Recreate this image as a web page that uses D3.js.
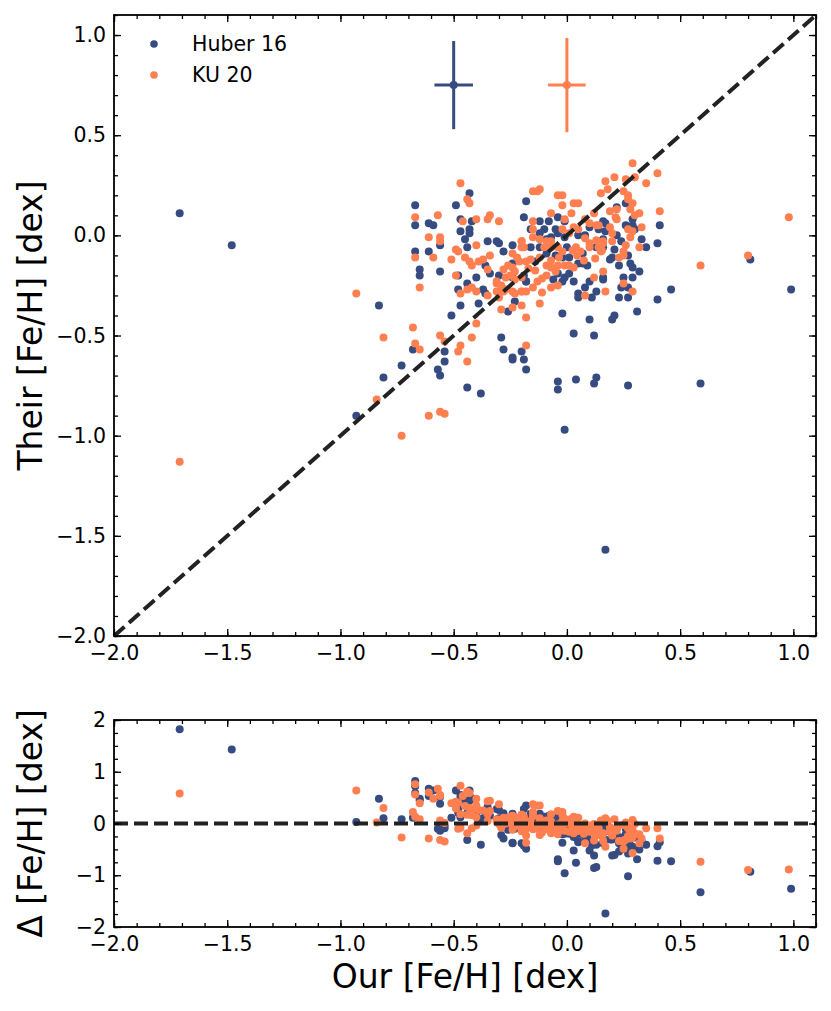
<!DOCTYPE html>
<html>
<head>
<meta charset="utf-8">
<script src="https://cdn.jsdelivr.net/npm/d3@7"></script>
<style>
  html, body { margin: 0; padding: 0; background: #fff; }
  svg text { font-family: "DejaVu Sans", sans-serif; fill: #000; }
  .tick line { stroke: #000; stroke-width: 1.3; }
  .domain { display: none; }
</style>
</head>
<body>
<svg id="chart" width="831" height="1011"></svg>
<script>
// [our, their] metallicity pairs
const huberPts = [
  [-1.71, 0.11], [-1.48, -0.05], [-0.83, -0.35], [-0.93, -0.90], [0.81, -0.12], [0.99, -0.27],
  [0.59, -0.74], [-0.01, -0.97], [0.17, -1.57], [0.46, -0.27], [0.40, -0.32], [0.31, -0.38],
  [0.21, -0.40], [0.20, -0.42],
  [0.41, 0.05], [0.40, -0.04], [0.35, -0.06], [0.33, -0.02], [0.30, 0.03], [0.26, 0.05],
  [0.26, 0.16], [0.22, 0.14], [0.29, 0.08], [0.16, 0.07], [0.17, 0.06], [0.17, 0.02],
  [0.22, 0.0], [0.16, -0.02], [0.21, -0.07], [0.24, -0.03], [0.27, -0.10], [0.20, -0.11],
  [0.23, -0.15], [0.28, -0.14], [0.29, -0.16], [0.32, -0.18], [0.29, -0.21], [0.25, -0.21],
  [0.16, -0.21], [0.24, -0.26], [0.27, -0.26], [0.23, -0.31], [0.27, -0.31], [0.29, 0.05],
  [-0.18, 0.17], [-0.19, 0.09], [-0.12, 0.07], [-0.08, 0.07], [-0.04, 0.09], [-0.01, 0.07],
  [-0.10, 0.03], [-0.05, 0.03], [-0.04, 0.01], [-0.16, -0.06], [-0.12, -0.06], [-0.05, -0.10],
  [-0.02, -0.11], [0.01, -0.11], [0.05, -0.14], [0.07, -0.14], [0.09, -0.15], [0.13, -0.06],
  [0.16, -0.06], [0.19, -0.12], [-0.01, -0.21], [0.01, -0.19], [-0.06, -0.22], [0.10, -0.23],
  [0.08, -0.26], [0.16, -0.22], [0.05, -0.29], [0.05, -0.31], [-0.16, 0.03], [-0.09, -0.02],
  [-0.12, 0.01], [-0.07, -0.01], [-0.01, -0.01], [0.05, 0.0], [0.08, 0.0], [0.10, 0.04],
  [0.14, 0.03], [0.07, -0.09], [0.0, -0.06], [-0.09, -0.09], [-0.14, -0.13], [-0.04, -0.19],
  [0.03, -0.23], [-0.02, -0.23], [-0.18, -0.23], [0.11, -0.31], [0.13, -0.28],
  [-0.43, 0.21], [-0.67, 0.15], [-0.49, 0.15], [-0.67, 0.05], [-0.61, 0.06], [-0.59, 0.05],
  [-0.47, 0.08], [-0.42, 0.07], [-0.43, 0.03], [-0.47, 0.02], [-0.43, 0.01], [-0.45, -0.02],
  [-0.56, -0.05], [-0.67, -0.08], [-0.61, -0.08], [-0.44, -0.06], [-0.35, -0.03], [-0.31, -0.03],
  [-0.30, -0.04], [-0.24, -0.05], [-0.28, -0.08], [-0.65, -0.17], [-0.65, -0.20], [-0.56, -0.18],
  [-0.48, -0.20], [-0.40, -0.21], [-0.36, -0.15], [-0.34, -0.19], [-0.44, -0.24], [-0.48, -0.27],
  [-0.37, -0.27], [-0.36, -0.29], [-0.30, -0.20], [-0.24, -0.21], [-0.47, -0.35], [-0.39, -0.34],
  [-0.26, -0.38], [-0.23, -0.33], [-0.51, -0.40], [-0.81, -0.71], [-0.73, -0.65], [-0.68, -0.57],
  [-0.57, -0.67], [-0.56, -0.70], [-0.54, -0.58], [-0.54, -0.63], [-0.44, -0.76], [-0.38, -0.79],
  [-0.29, -0.51], [-0.28, -0.57], [-0.24, -0.61], [-0.24, -0.62], [-0.20, -0.58], [-0.19, -0.62],
  [-0.18, -0.67], [-0.02, -0.39], [0.03, -0.49], [0.12, -0.50], [0.10, -0.42], [-0.04, -0.73],
  [-0.04, -0.77], [0.04, -0.72], [0.13, -0.71], [0.12, -0.74], [0.27, -0.75], [-0.24, -0.14],
  [-0.19, -0.20], [-0.18, -0.23]
]

const ku20Pts = [
  [-1.71, -1.13], [-0.93, -0.29], [-0.81, -0.51], [-0.84, -0.82], [-0.73, -1.00], [0.98, 0.09],
  [0.80, -0.10], [0.59, -0.15],
  [0.29, 0.36], [0.40, 0.31], [0.35, 0.26], [0.30, 0.29], [0.26, 0.28], [0.21, 0.29],
  [0.17, 0.27], [0.18, 0.23], [0.15, 0.21], [0.25, 0.22], [0.27, 0.20], [0.27, 0.18],
  [0.29, 0.16], [0.41, 0.12], [0.28, 0.13], [0.32, 0.11], [0.30, 0.10], [0.19, 0.12],
  [0.22, 0.13], [0.22, 0.08], [0.14, 0.05], [0.33, 0.04], [0.27, 0.03], [0.29, 0.02],
  [0.28, -0.01], [0.32, -0.06], [0.20, -0.03], [0.16, -0.04], [0.26, -0.05], [0.25, -0.08],
  [0.23, -0.11], [0.25, -0.10], [0.15, -0.08], [0.16, -0.18], [0.17, -0.28], [0.25, -0.24],
  [0.29, -0.28],
  [-0.13, 0.22], [-0.12, 0.23], [-0.02, 0.20], [-0.02, 0.15], [-0.07, 0.11], [0.03, 0.16],
  [0.05, 0.16], [0.02, 0.11], [-0.01, 0.08], [-0.15, 0.07], [0.12, 0.11], [0.08, 0.08],
  [0.10, 0.06], [0.13, 0.05], [0.05, 0.03], [0.03, 0.04], [-0.02, 0.03], [0.01, 0.01],
  [-0.15, 0.03], [-0.15, -0.01], [-0.12, -0.02], [-0.09, -0.03], [-0.07, -0.03], [-0.20, -0.03],
  [-0.19, -0.06], [-0.10, -0.06], [-0.07, -0.06], [-0.04, -0.06], [-0.02, -0.08], [0.04, -0.06],
  [0.06, -0.08], [0.10, -0.06], [0.14, -0.06], [0.16, -0.03], [-0.18, -0.13], [-0.16, -0.12],
  [-0.09, -0.15], [-0.07, -0.16], [-0.04, -0.15], [-0.01, -0.15], [0.01, -0.15], [0.03, -0.16],
  [-0.05, -0.18], [-0.09, -0.20], [-0.13, -0.23], [-0.20, -0.21], [-0.20, -0.28], [-0.07, -0.26],
  [-0.04, -0.25], [0.12, -0.21], [0.08, -0.30], [-0.18, -0.28], [-0.04, 0.20],
  [0.19, 0.04], [0.20, 0.01], [0.215, 0.09], [0.08, -0.015], [0.10, -0.04], [0.13, -0.025],
  [0.025, -0.075], [0.045, -0.10], [-0.035, -0.11], [-0.12, -0.11], [-0.07, -0.125], [-0.14, -0.175],
  [-0.17, -0.165], [-0.11, -0.215], [-0.15, -0.26], [-0.11, -0.285], [0.125, -0.115], [0.155, -0.075],
  [0.075, -0.125],
  [-0.47, 0.26], [-0.44, 0.18], [-0.43, 0.16], [-0.67, 0.09], [-0.57, 0.10], [-0.61, -0.01],
  [-0.56, -0.01], [-0.56, -0.03], [-0.67, -0.11], [-0.59, -0.11], [-0.51, -0.12], [-0.49, -0.07],
  [-0.48, -0.08], [-0.46, 0.07], [-0.40, 0.08], [-0.34, 0.10], [-0.35, 0.08], [-0.30, 0.07],
  [-0.40, -0.05], [-0.45, -0.11], [-0.43, -0.13], [-0.42, -0.15], [-0.39, -0.13], [-0.37, -0.12],
  [-0.34, -0.10], [-0.35, -0.17], [-0.49, -0.20], [-0.65, -0.26], [-0.44, -0.27], [-0.42, -0.26],
  [-0.40, -0.28], [-0.47, -0.29], [-0.31, -0.24], [-0.28, -0.17], [-0.26, -0.15], [-0.24, -0.16],
  [-0.27, -0.21], [-0.25, -0.20], [-0.23, -0.22], [-0.31, -0.23], [-0.29, -0.25], [-0.27, -0.27],
  [-0.23, -0.18], [-0.21, -0.13], [-0.24, -0.09], [-0.22, -0.11], [-0.20, -0.06], [-0.20, -0.03],
  [-0.35, -0.30], [-0.31, -0.28], [-0.30, -0.31], [-0.28, -0.28], [-0.24, -0.28], [-0.23, -0.29],
  [-0.29, -0.37], [-0.24, -0.36], [-0.20, -0.35], [-0.18, -0.41], [-0.12, -0.34], [-0.20, -0.28],
  [-0.40, -0.44], [-0.42, -0.51], [-0.56, -0.50], [-0.68, -0.46], [-0.67, -0.54], [-0.65, -0.57],
  [-0.54, -0.53], [-0.47, -0.55], [-0.48, -0.58], [-0.44, -0.63], [-0.18, -0.55], [-0.61, -0.90],
  [-0.56, -0.88], [-0.54, -0.89], [-0.15, 0.22]
]

// typical uncertainties shown at the top of the panel
const errBars = [
  { key: 'huber', x: -0.5, y: 0.75, xerr: 0.085, yerr: 0.22 },
  { key: 'ku20', x: 0.0, y: 0.75, xerr: 0.083, yerr: 0.235 }
]

const seriesNames = { huber: 'Huber 16', ku20: 'KU 20' }
const xTicks = [-2.0, -1.5, -1.0, -0.5, 0.0, 0.5, 1.0]
const yTicksTop = [-2.0, -1.5, -1.0, -0.5, 0.0, 0.5, 1.0]
const yTicksBottom = [-2, -1, 0, 1, 2]

const colors = { huber: '#364b80', ku20: '#ff7f50' }
const tickFont = '20.5px'
const titleFont = '33px'

const svg = d3.select('#chart')
const left = 114, right = 816
const top1 = 15, bottom1 = 636
const top2 = 720, bottom2 = 927

const x = d3.scaleLinear().domain([-2, 1.1]).range([left, right])
const yTop = d3.scaleLinear().domain([-2, 1.1]).range([bottom1, top1])
const yBot = d3.scaleLinear().domain([-2, 2]).range([bottom2, top2])

function drawAxes (g, y, yMajor, yMinorStep, yFmt) {
    const xMinor = d3.range(-20, 12).map(d => d / 10)
    const [y0, y1] = y.domain()
    const yMinor = d3.range(Math.ceil(y0 / yMinorStep), Math.floor(y1 / yMinorStep) + 1)
        .map(d => d * yMinorStep)
    const yb = y.range()[0], yt = y.range()[1]

    const add = (axis, tr, size, vals, fmt, pad) => {
        const a = g.append('g')
            .attr('transform', tr)
            .call(axis.tickValues(vals).tickSize(size).tickPadding(pad || 8)
                .tickFormat(fmt || ''))
        a.selectAll('text').style('font-size', tickFont)
        return a
    }
    // bottom
    add(d3.axisBottom(x), `translate(0,${yb})`, -4, xMinor)
    add(d3.axisBottom(x), `translate(0,${yb})`, -7, xTicks, d3.format('.1f'), 9)
    // top
    add(d3.axisTop(x), `translate(0,${yt})`, -4, xMinor)
    add(d3.axisTop(x), `translate(0,${yt})`, -7, xTicks)
    // left
    add(d3.axisLeft(y), `translate(${left},0)`, -4, yMinor)
    add(d3.axisLeft(y), `translate(${left},0)`, -7, yMajor, yFmt, 8)
    // right
    add(d3.axisRight(y), `translate(${right},0)`, -4, yMinor)
    add(d3.axisRight(y), `translate(${right},0)`, -7, yMajor)

    g.append('rect')
        .attr('x', left).attr('y', yt)
        .attr('width', right - left).attr('height', yb - yt)
        .attr('fill', 'none')
        .attr('stroke', '#000')
        .attr('stroke-width', 1.8)
}

function drawPoints (g, pts, key, yFn) {
    g.append('g')
        .attr('class', 'pts-' + key)
        .selectAll('circle')
        .data(pts)
        .join('circle')
        .attr('cx', d => x(d[0]))
        .attr('cy', yFn)
        .attr('r', 4)
        .attr('fill', colors[key])
}

// ---- top panel
const gTop = svg.append('g').attr('class', 'panel-top')
drawPoints(gTop, huberPts, 'huber', d => yTop(d[1]))
drawPoints(gTop, ku20Pts, 'ku20', d => yTop(d[1]))

const gErr = gTop.append('g').attr('class', 'err-bars')
errBars.forEach(e => {
    const c = colors[e.key]
    gErr.append('line')
        .attr('x1', x(e.x)).attr('x2', x(e.x))
        .attr('y1', yTop(e.y - e.yerr)).attr('y2', yTop(e.y + e.yerr))
        .attr('stroke', c).attr('stroke-width', 3)
    gErr.append('line')
        .attr('x1', x(e.x - e.xerr)).attr('x2', x(e.x + e.xerr))
        .attr('y1', yTop(e.y)).attr('y2', yTop(e.y))
        .attr('stroke', c).attr('stroke-width', 3)
    gErr.append('circle')
        .attr('cx', x(e.x)).attr('cy', yTop(e.y))
        .attr('r', 4).attr('fill', c)
})

gTop.append('line')
    .attr('x1', x(-2)).attr('y1', yTop(-2))
    .attr('x2', x(1.1)).attr('y2', yTop(1.1))
    .attr('stroke', '#222')
    .attr('stroke-width', 4)
    .attr('stroke-dasharray', '14,6')

drawAxes(gTop, yTop, yTicksTop, 0.1, d3.format('.1f'))

// legend
const legend = gTop.append('g').attr('class', 'legend')
Object.keys(seriesNames).forEach((k, i) => {
    const ly = 44 + i * 31
    legend.append('circle')
        .attr('cx', 154).attr('cy', ly).attr('r', 3.8)
        .attr('fill', colors[k])
    legend.append('text')
        .attr('x', 192).attr('y', ly + 7)
        .style('font-size', tickFont)
        .text(seriesNames[k])
})

svg.append('text')
    .attr('transform', `translate(42,${(top1 + bottom1) / 2}) rotate(-90)`)
    .attr('text-anchor', 'middle')
    .style('font-size', titleFont)
    .text('Their [Fe/H] [dex]')

// ---- bottom panel: difference their - our
const gBot = svg.append('g').attr('class', 'panel-bottom')
drawPoints(gBot, huberPts, 'huber', d => yBot(d[1] - d[0]))
drawPoints(gBot, ku20Pts, 'ku20', d => yBot(d[1] - d[0]))

gBot.append('line')
    .attr('x1', x(-2)).attr('x2', x(1.1))
    .attr('y1', yBot(0)).attr('y2', yBot(0))
    .attr('stroke', '#222')
    .attr('stroke-width', 4)
    .attr('stroke-dasharray', '14,6')

drawAxes(gBot, yBot, yTicksBottom, 0.25, d3.format('d'))

svg.append('text')
    .attr('transform', `translate(42,${(top2 + bottom2) / 2}) rotate(-90)`)
    .attr('text-anchor', 'middle')
    .style('font-size', titleFont)
    .text('Δ [Fe/H] [dex]')

svg.append('text')
    .attr('x', (left + right) / 2).attr('y', 988)
    .attr('text-anchor', 'middle')
    .style('font-size', titleFont)
    .text('Our [Fe/H] [dex]')
</script>
</body>
</html>
